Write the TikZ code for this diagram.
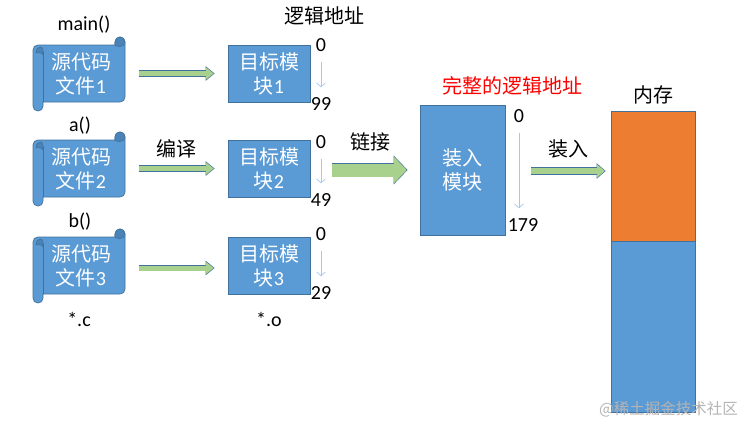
\documentclass[tikz,border=0pt]{standalone}
\usepackage{fontspec}
\setmainfont{Carlito}
\newfontfamily\cjk{Noto Sans CJK SC}
\usetikzlibrary{arrows.meta}
\definecolor{BlockBlue}{HTML}{5B9BD5}
\definecolor{BlockEdge}{HTML}{41719C}
\definecolor{CurlBlue}{HTML}{4A83B8}
\definecolor{MemOrange}{HTML}{ED7D31}
\definecolor{ArrowGreen}{HTML}{A9D18E}
\definecolor{AddrLine}{HTML}{A6C8E8}
\definecolor{MarkGray}{HTML}{B4B4B4}
\tikzset{
  every node/.style = {font=\fontsize{20}{24}\selectfont\cjk, inner sep=0pt, text=black, align=center},
  blockbox/.style   = {rectangle, draw=BlockEdge, fill=BlockBlue, line width=0.7pt,
                       text=white, minimum width=82pt, minimum height=57pt},
  scrolltext/.style = {rectangle, text=white, minimum width=92pt, minimum height=57pt},
  scrollbody/.style = {draw=BlockEdge, fill=BlockBlue, line width=0.7pt, line join=round},
  scrollcurl/.style = {draw=BlockEdge, fill=CurlBlue, line width=0.6pt},
  latinlabel/.style = {font=\fontsize{20}{24}\selectfont},
  addrarrow/.style  = {draw=AddrLine, line width=0.7pt, shorten <=10pt, shorten >=10pt,
                       -{Straight Barb[length=4pt,width=9pt]}},
  greenarrow/.style n args={5}{line width=#1pt, draw=ArrowGreen, shorten <=#4pt, shorten >=#5pt,
                       -{Triangle[length=#3pt,width=#2pt,sep=0.9pt,fill=ArrowGreen,color=ArrowGreen]},
                       preaction={draw=BlockEdge, line width=#1pt+1.2pt,
                       -{Triangle[length=#3pt+1pt,width=#2pt+2pt,fill=BlockEdge,color=BlockEdge]}}},
  srcscroll/.pic = {
    \path[scrollbody] (5,0) -- (82,0) -- (82,-3) .. controls (82,-6) and (84,-8) .. (87,-8)
      .. controls (90,-8) and (92,-6) .. (92,-3) -- (92,52) .. controls (92,55) and (90,57) .. (87,57)
      -- (10,57) -- (10,61) .. controls (10,64) and (8,66) .. (5,66)
      .. controls (2,66) and (0,64) .. (0,61) -- (0,5) .. controls (0,2) and (2,0) .. (5,0) -- cycle;
    \path[scrollcurl] (82,0) -- (82,-3) .. controls (82,-6) and (84,-8) .. (87,-8)
      .. controls (90,-8) and (92,-6) .. (92,-3) .. controls (92,0) and (90,1.5) .. (87,1.5)
      .. controls (85,1.5) and (82,1) .. (82,0) -- cycle;
    \path[scrollcurl] (3,8) .. controls (3,4) and (5,2) .. (7.5,2) .. controls (9,2) and (10,3.5) .. (10,6)
      -- (10,10) .. controls (8,7) and (5,7) .. (3,8) -- cycle;
    \draw[BlockEdge, line width=0.7pt] (10,6) -- (10,57);
  },
}

\begin{document}
\begin{tikzpicture}[x=1pt, y=-1pt]
\useasboundingbox (0,0) rectangle (743,424);

% =========================================================================
% Source scrolls
% =========================================================================
\pic at (33,45)  {srcscroll};
\pic at (33,140) {srcscroll};
\pic at (33,237) {srcscroll};

\node[scrolltext] (src1) at (79,73.5)  {\hspace{4pt}源代码\\\hspace{4pt}文件{\rmfamily 1}};
\node[scrolltext] (src2) at (79,168.5) {\hspace{4pt}源代码\\\hspace{4pt}文件{\rmfamily 2}};
\node[scrolltext] (src3) at (79,265.5) {\hspace{4pt}源代码\\\hspace{4pt}文件{\rmfamily 3}};

\node[latinlabel] (fn1) at (84,25)  {main()};
\node[latinlabel] (fn2) at (80,126) {a()};
\node[latinlabel] (fn3) at (80,222) {b()};
\node[latinlabel] (extc) at (79,319) {*.c};

% =========================================================================
% Object modules
% =========================================================================
\node[blockbox] (obj1) at (269,73.5)  {目标模\\块{\rmfamily 1}};
\node[blockbox] (obj2) at (269,168.5) {目标模\\块{\rmfamily 2}};
\node[blockbox] (obj3) at (269,265.5) {目标模\\块{\rmfamily 3}};

\node (logic) at (324,16) {逻辑地址};
\node[latinlabel] (exto) at (269,319) {*.o};

% --- Address ranges -------------------------------------------------------
\node[latinlabel] (low1)  at (321,45)  {0};
\node[latinlabel] (high1) at (321,104) {99};
\node[latinlabel] (low2)  at (321,142) {0};
\node[latinlabel] (high2) at (321,200) {49};
\node[latinlabel] (low3)  at (321,234) {0};
\node[latinlabel] (high3) at (321,293) {29};

\draw[addrarrow] (low1.south) -- (high1.north);
\draw[addrarrow] (low2.south) -- (high2.north);
\draw[addrarrow] (low3.south) -- (high3.north);

% =========================================================================
% Load module and memory
% =========================================================================
\node[blockbox, minimum width=85pt, minimum height=130pt] (load) at (462.5,170) {装入\\模块};
\node[text=red] (whole) at (512,86) {完整的逻辑地址};

\node[latinlabel] (low4)  at (519,116) {0};
\node[latinlabel] (high4) at (523,225) {179};
\draw[addrarrow] (low4.south) -- (low4.south |- high4.north);

\node[blockbox, fill=MemOrange, minimum width=84pt, minimum height=130pt] (memtop) at (653,176) {};
\node[blockbox, minimum width=84pt, minimum height=171pt] (membot) at (653,326.5) {};
\node (memlabel) at (653,95) {内存};

% =========================================================================
% Green arrows
% =========================================================================
\draw[greenarrow={5}{12}{8}{14}{13}] (src1) -- (obj1);
\draw[greenarrow={5}{12}{8}{14}{13}] (src2) -- (obj2);
\draw[greenarrow={5}{12}{8}{14}{13}] ([yshift=-2.5pt]src3.east) -- ([yshift=-2.5pt]obj3.west);

\coordinate (linkin) at (310,170);
\draw[greenarrow={13}{26}{13}{22}{12}] (linkin) -- (load);
\coordinate (loadout) at (505,171);
\draw[greenarrow={6}{13}{8}{26}{5}] (loadout) -- (memtop.west |- loadout);

\node (compile) at (176,149) {编译};
\node (linking) at (370,142) {链接};
\node (loading) at (568,149) {装入};

% --- Corner mark ----------------------------------------------------------
\node[anchor=east, text=MarkGray, font=\fontsize{15.5}{18}\selectfont\cjk] (mark) at (738,409) {@稀土掘金技术社区};

\end{tikzpicture}
\end{document}
